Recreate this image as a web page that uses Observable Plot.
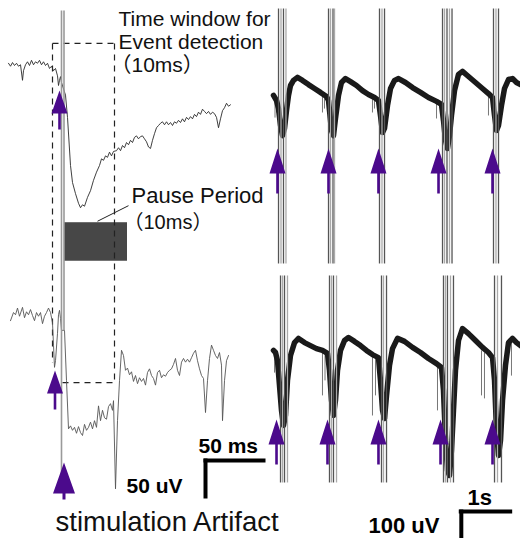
<!DOCTYPE html>
<html><head><meta charset="utf-8">
<script src="https://cdn.jsdelivr.net/npm/d3@7"></script>
<script src="https://cdn.jsdelivr.net/npm/@observablehq/plot@0.6"></script>
<style>
html,body{margin:0;padding:0;background:#fff;}
#fig{position:relative;width:520px;height:538px;overflow:hidden;background:#fff;}
#fig svg{position:absolute;top:0;background:transparent !important;}
</style></head><body><div id="fig"></div>
<script>
// ---------- LEFT PANEL DATA (time in ms from stimulation, voltage in uV relative to trace baseline)
const topLeftTrace = [
[-43.2,3],[-41.6,-1],[-40,4],[-38.4,0],[-36.8,3],[-35.2,-1],[-33.6,1],[-32,-20],[-31.2,-7],[-29.6,1],[-28,5],[-26.4,0],[-24.8,7],[-23.2,1],[-21.6,5],[-20,3],[-18.4,7],[-16.8,1],[-15.2,5],[-13.6,0],[-12,3],[-10.4,-4],[-8.8,-1],[-7.2,-7],[-5.6,-4],[-4,-14],[-3.2,-27],[-2.4,-20],[-1.6,-15],[-0.8,-23],
[2.4,-40],[4,-70],[6.4,-135],[8,-158],[10.4,-173],[12.8,-186],[14.4,-192],[16,-188],[17.6,-190],[20,-178],[22.4,-169],[24.8,-155],[27.2,-144],[29.6,-135],[31.2,-126],[32.8,-128],[34.4,-122],[36,-124],[37.6,-117],[39.2,-122],[40.8,-116],[43.2,-115],[44.8,-111],[46.4,-115],[48,-108],[49.6,-111],[51.2,-104],[52.8,-107],[54.4,-101],[56,-104],[57.6,-97],[59.2,-95],[60.8,-99],[62.4,-96],[64,-95],[65.6,-99],[67.2,-103],[68.8,-110],[70.4,-112],[72,-101],[73.6,-92],[75.2,-84],[76.8,-81],[78.4,-78],[80,-76],[81.6,-80],[83.2,-76],[84.8,-80],[86.4,-77],[88,-81],[89.6,-76],[91.2,-78],[92.8,-74],[94.4,-77],[96,-72],[97.6,-76],[99.2,-70],[100.8,-73],[102.4,-69],[104,-72],[105.6,-66],[107.2,-69],[108.8,-63],[110.4,-66],[112,-59],[113.6,-62],[115.2,-65],[116.8,-62],[118.4,-66],[120,-63],[121.6,-65],[123.2,-70],[124.8,-84],[126.4,-72],[128,-61],[129.6,-57],[131.2,-51],[132.8,-55],[134.4,-53]
];
const bottomLeftTrace = [
[-41.6,-7],[-39.2,4],[-37.6,1],[-36,10],[-34.4,-1],[-32,11],[-30.4,-3],[-28.8,5],[-27.2,1],[-25.6,8],[-24,0],[-22.4,-7],[-20.8,4],[-19.2,-1],[-17.6,4],[-16,-11],[-14.4,-1],[-12.8,4],[-11.2,10],[-9.6,4],[-8,-10],[-7.2,-40],[-6.4,-70],[-5.6,-61],[-4,-24],[-3.2,1],[-2.4,7],[-1.6,-4],[-0.8,-20],
[1.6,-20],[3.2,-88],[4.8,-153],[6.4,-149],[8,-155],[9.6,-151],[11.2,-159],[12.8,-150],[14.4,-158],[16,-162],[17.6,-147],[19.2,-155],[20.8,-151],[22.4,-144],[24,-153],[25.6,-142],[27.2,-151],[28.8,-122],[30.4,-142],[32,-128],[33.6,-138],[35.2,-140],[36.8,-123],[38.4,-119],[40,-128],[40.8,-115],[42.4,-234],[44,-142],[45.6,-88],[47.2,-47],[48.8,-54],[50.4,-74],[52,-71],[53.6,-80],[55.2,-76],[56.8,-89],[58.4,-81],[60,-92],[61.6,-84],[63.2,-89],[64.8,-85],[66.4,-94],[68,-77],[69.6,-72],[71.2,-81],[72.8,-85],[74.4,-94],[76,-77],[77.6,-74],[79.2,-84],[80.8,-80],[82.4,-82],[84,-77],[85.6,-74],[87.2,-72],[88.8,-66],[90.4,-58],[92,-74],[93.6,-81],[95.2,-63],[96.8,-58],[98.4,-63],[100,-59],[101.6,-63],[103.2,-57],[104.8,-51],[106.4,-47],[108,-61],[109.6,-72],[111.2,-81],[112.8,-85],[114.4,-131],[116,-88],[117.6,-58],[119.2,-40],[120.8,-47],[122.4,-54],[124,-58],[125.6,-50],[127.2,-67],[128,-142],[129.6,-88],[131.2,-61],[132.8,-54]
];
// baseline offsets of the two left traces on the shared uV axis
const leftTraceOffsets = [-87.75, -425.25];
// stimulation artifact (gray) lines
const leftArtifact = [
  {t1:-0.8, v1:-13.5, t2:-0.8, v2:-640},
  {t1:1.2, v1:-13.5, t2:1.2, v2:-445}
];
// event-detection time window (dashed)
const windowEdges = [
  {t1:-8, v1:-58, t2:41.6, v2:-58},
  {t1:-8, v1:-58, t2:-8, v2:-489},
  {t1:41.6, v1:-58, t2:41.6, v2:-516},
  {t1:0, v1:-516, t2:41.6, v2:-516}
];
// pause period block
const pauseBlock = [{t1:1.6, t2:52, v1:-352, v2:-300}];
const pauseLeader = [{t1:28, v1:-298, t2:52.8, v2:-277}];
// stimulation arrows (tip positions)
const leftArrowsSmall = [{t:-2.4, v:-121.5}, {t:-6, v:-499.5}];
const leftArrowBig = [{t:1.2, v:-623.7}];
// scale bar 50 ms / 50 uV
const leftScaleBar = [
  {t1:112.8, v1:-621, t2:162.4, v2:-621},
  {t1:114.4, v1:-618.3, t2:114.4, v2:-672.3}
];
const leftNotes = [
  {t:44.8, v:-33.75, label:"Time window for", size:21},
  {t:44.8, v:-64.8, label:"Event detection", size:21},
  {t:38.4, v:-95.85, label:"（10ms）", size:21},
  {t:55.2, v:-272.7, label:"Pause Period", size:22},
  {t:48.8, v:-307.8, label:"（10ms）", size:20}
];
const leftScaleLabels = [
  {t:108.8, v:-610.2, label:"50 ms"},
  {t:51.2, v:-664.2, label:"50 uV"}
];
const artifactLabel = [{t:-5.6, v:-715.5, label:"stimulation Artifact"}];

// ---------- RIGHT PANEL DATA (time in s, voltage in uV relative to baseline)
const topRightTrace = [
[0,7],[0.056,-10],[0.093,-37],[0.13,-93],[0.167,-127],[0.204,-103],[0.241,-43],[0.278,7],[0.315,40],[0.37,57],[0.444,67],[0.537,57],[0.648,43],[0.759,30],[0.87,17],[0.981,3],[1.019,-10],
[1.037,-43],[1.074,-110],[1.111,-127],[1.148,-70],[1.204,7],[1.259,50],[1.333,63],[1.426,53],[1.537,40],[1.648,23],[1.759,10],[1.87,0],[1.944,-10],
[1.981,-60],[2.019,-117],[2.056,-103],[2.111,-27],[2.167,30],[2.241,57],[2.315,63],[2.444,50],[2.574,33],[2.722,17],[2.87,0],[3.019,-13],[3.111,-23],
[3.148,-77],[3.185,-143],[3.222,-170],[3.259,-127],[3.296,-60],[3.352,23],[3.426,77],[3.5,87],[3.611,70],[3.741,50],[3.87,30],[3.981,13],[4.056,0],
[4.093,-60],[4.13,-110],[4.167,-93],[4.222,-27],[4.278,30],[4.352,60],[4.426,63],[4.5,50],[4.574,43]
];
const bottomRightTrace = [
[0,17],[0.037,10],[0.074,-17],[0.111,-100],[0.148,-183],[0.185,-233],[0.222,-200],[0.259,-83],[0.315,0],[0.389,43],[0.463,57],[0.574,43],[0.685,33],[0.796,23],[0.907,17],[1.0,7],
[1.037,-50],[1.074,-150],[1.111,-200],[1.148,-150],[1.185,-50],[1.241,17],[1.315,50],[1.389,60],[1.5,47],[1.611,33],[1.722,17],[1.833,3],[1.944,-7],
[1.981,-83],[2.019,-183],[2.056,-210],[2.093,-133],[2.148,-33],[2.204,23],[2.296,57],[2.426,47],[2.574,27],[2.722,10],[2.87,-10],[3.019,-27],[3.111,-40],
[3.148,-117],[3.185,-283],[3.222,-383],[3.259,-400],[3.296,-317],[3.333,-183],[3.37,-50],[3.426,50],[3.5,90],[3.611,73],[3.741,50],[3.87,27],[3.981,10],[4.056,-7],
[4.093,-83],[4.13,-250],[4.167,-333],[4.204,-283],[4.241,-150],[4.296,-33],[4.352,43],[4.426,57],[4.5,43],[4.574,33]
];
const rightTraceOffsets = [-323.3, -1183.3];
// small downward spikes: [t, v from, v to]
const topRightSpikes = [[0.028,0,-67],[0.056,0,-50],[0.907,7,-50],[0.944,7,-37],[1.833,0,-50],[1.87,0,-37],[3.019,-10,-70],[3.981,7,-60]];
const bottomRightSpikes = [[0.019,17,-57],[0.907,17,-133],[0.954,10,-83],[1.833,3,-200],[1.889,0,-133],[3.037,-27,-183],[3.852,17,-133],[3.907,10,-143],[4.407,50,-67]];
// stimulation artifact line groups (s)
const artifactTimesTop = [[0.093,0.139,0.185,0.231],[1.019,1.056,1.102,1.13],[1.963,2.009,2.056],[3.13,3.167,3.213,3.259,3.306],[4.074,4.12,4.167]];
const artifactTimesBottom = [[0.13,0.167,0.204,0.259],[1.037,1.074,1.111,1.167],[2.0,2.037,2.093],[3.148,3.185,3.222,3.278,3.333],[4.093,4.148,4.222]];
const artifactSpanTop = [-26.7, -876.6];
const artifactSpanBottom = [-916.6, -1606.6];
const rightArrowsTop = [0.074, 1.019, 1.944, 3.056, 4.056];
const rightArrowsBottom = [0.056, 1.0, 1.944, 3.093, 4.056];
const rightArrowTipTop = -493.3, rightArrowTipBottom = -1396.7;
// scale bar 1 s / 100 uV
const rightScaleBar = [
  {t1:3.431, v1:-1703.3, t2:4.42, v2:-1703.3},
  {t1:3.478, v1:-1696.7, t2:3.478, v2:-1806.7}
];
const rightScaleLabels = [
  {t:3.593, v:-1683.2, label:"1s"},
  {t:1.759, v:-1776.5, label:"100 uV"}
];

// ---------- DRAWING
const FONT = '"Liberation Sans", Arial, "Noto Sans CJK JP", sans-serif';
const PURPLE = "#4b0a8c";
function arrowSymbol(headW, headH, shaftW, shaftL) {
  return {draw(ctx) {
    const hw = headW / 2, sw = shaftW / 2;
    ctx.moveTo(0, 0);
    ctx.lineTo(hw, headH);
    ctx.lineTo(sw, headH);
    ctx.lineTo(sw, headH + shaftL);
    ctx.lineTo(-sw, headH + shaftL);
    ctx.lineTo(-sw, headH);
    ctx.lineTo(-hw, headH);
    ctx.closePath();
  }};
}
const link = (data, o) => Plot.link(data, {x1:"t1", y1:"v1", x2:"t2", y2:"v2", ...o});

const left = Plot.plot({
  width: 300, height: 538, margin: 0,
  x: {domain: [-49.6, 190.4], axis: null},
  y: {domain: [-726.3, 0], axis: null},
  style: {background: "transparent", fontFamily: FONT, overflow: "visible"},
  marks: [
    Plot.rect(pauseBlock, {x1:"t1", x2:"t2", y1:"v1", y2:"v2", fill:"#474747"}),
    link(windowEdges, {stroke:"#222", strokeWidth:1.2, strokeDasharray:"6,5"}),
    link(pauseLeader, {stroke:"#222", strokeWidth:1}),
    Plot.line(topLeftTrace, {x: d => d[0], y: d => leftTraceOffsets[0] + d[1], stroke:"#2a2a2a", strokeWidth:0.9}),
    Plot.line(bottomLeftTrace, {x: d => d[0], y: d => leftTraceOffsets[1] + d[1], stroke:"#555", strokeWidth:0.9}),
    link(leftArtifact, {stroke:"#9a9a9a", strokeWidth:1.6}),
    Plot.dot(leftArrowsSmall, {x:"t", y:"v", symbol: arrowSymbol(16, 23, 2.6, 16), fill: PURPLE, stroke:"none", r:5}),
    Plot.dot(leftArrowBig, {x:"t", y:"v", symbol: arrowSymbol(22, 31, 3, 6), fill: PURPLE, stroke:"none", r:5}),
    link(leftScaleBar, {stroke:"#000", strokeWidth:4}),
    Plot.text(leftNotes, {x:"t", y:"v", text:"label", textAnchor:"start", lineAnchor:"bottom", fontSize:"size", fill:"#111"}),
    Plot.text(leftScaleLabels, {x:"t", y:"v", text:"label", textAnchor:"start", lineAnchor:"bottom", fontSize:21, fontWeight:"bold", fill:"#000"}),
    Plot.text(artifactLabel, {x:"t", y:"v", text:"label", textAnchor:"start", lineAnchor:"bottom", fontSize:27.5, fill:"#111"})
  ]
});

const artRows = [];
artifactTimesTop.forEach(g => g.forEach((t, i) => artRows.push({t1:t, t2:t, v1:artifactSpanTop[0], v2:artifactSpanTop[1], c: i % 2 ? "#aaa" : "#555"})));
artifactTimesBottom.forEach(g => g.forEach((t, i) => artRows.push({t1:t, t2:t, v1:artifactSpanBottom[0], v2:artifactSpanBottom[1], c: i % 2 ? "#aaa" : "#555"})));
const spikeRows = [
  ...topRightSpikes.map(([t, a, b]) => ({t1:t, t2:t, v1:rightTraceOffsets[0] + a, v2:rightTraceOffsets[0] + b})),
  ...bottomRightSpikes.map(([t, a, b]) => ({t1:t, t2:t, v1:rightTraceOffsets[1] + a, v2:rightTraceOffsets[1] + b}))
];
const rightArrows = [
  ...rightArrowsTop.map(t => ({t, v: rightArrowTipTop})),
  ...rightArrowsBottom.map(t => ({t, v: rightArrowTipBottom}))
];

const right = Plot.plot({
  width: 260, height: 538, margin: 0,
  x: {domain: [-0.2407, 4.5741], axis: null},
  y: {domain: [-1793.3, 0], axis: null},
  style: {background: "transparent", fontFamily: FONT, overflow: "visible"},
  marks: [
    link(spikeRows, {stroke:"#777", strokeWidth:1}),
    Plot.line(topRightTrace, {x: d => d[0], y: d => rightTraceOffsets[0] + d[1], stroke:"#1a1a1a", strokeWidth:5.5, strokeLinejoin:"round"}),
    Plot.line(bottomRightTrace, {x: d => d[0], y: d => rightTraceOffsets[1] + d[1], stroke:"#1a1a1a", strokeWidth:5.5, strokeLinejoin:"round"}),
    link(artRows, {stroke:"c", strokeWidth:1.3}),
    Plot.dot(rightArrows, {x:"t", y:"v", symbol: arrowSymbol(16, 25, 2.6, 20), fill: PURPLE, stroke:"none", r:5}),
    link(rightScaleBar, {stroke:"#000", strokeWidth:4}),
    Plot.text(rightScaleLabels, {x:"t", y:"v", text:"label", textAnchor:"start", lineAnchor:"bottom", fontSize:22, fontWeight:"bold", fill:"#000"})
  ]
});

left.style.left = "0px";
right.style.left = "260px";
const fig = document.getElementById("fig");
fig.appendChild(left);
fig.appendChild(right);
</script>
</body></html>
